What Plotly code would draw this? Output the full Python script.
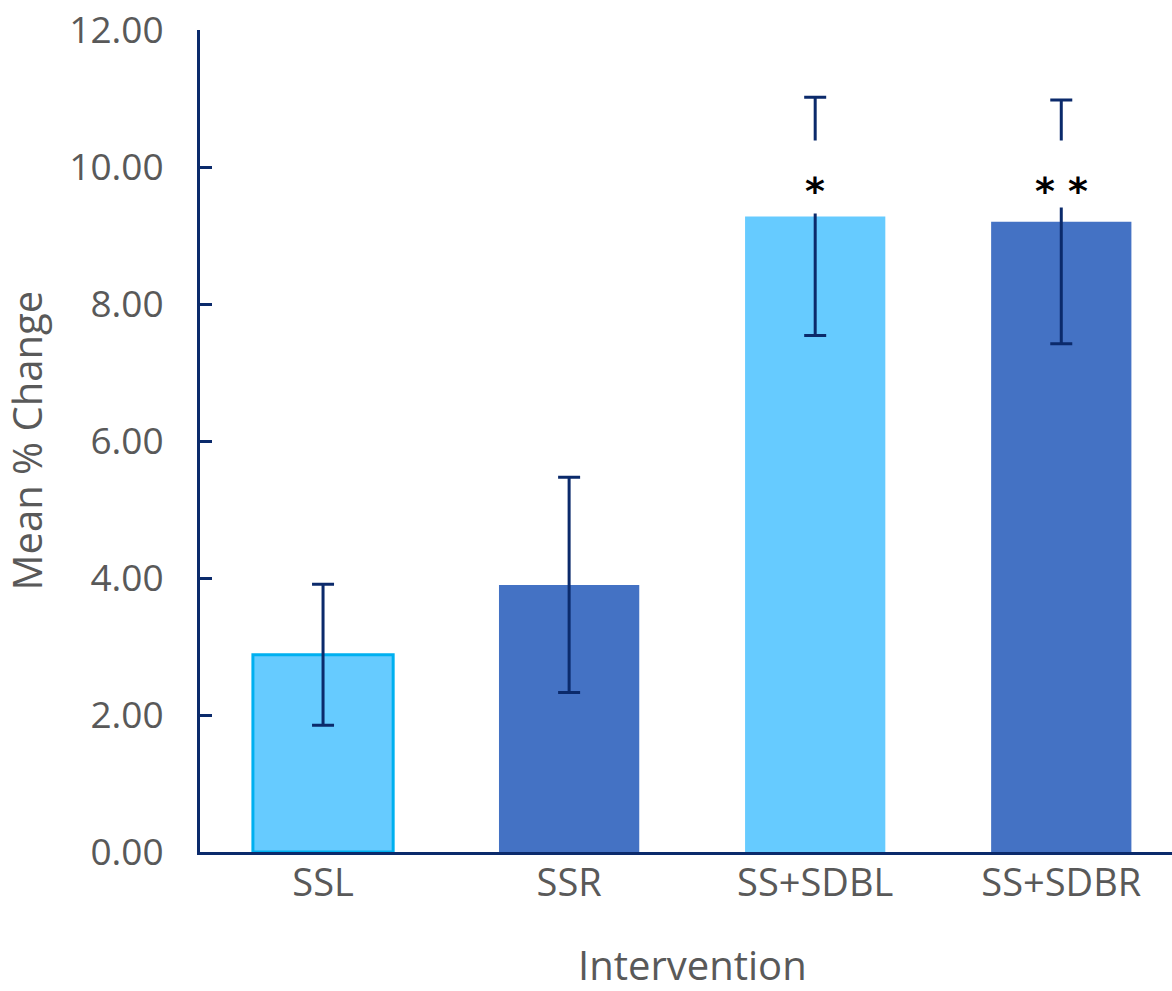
import plotly.graph_objects as go

categories = ["SSL", "SSR", "SS+SDBL", "SS+SDBR"]
means = [2.88, 3.90, 9.28, 9.20]
errors = [1.03, 1.57, 1.74, 1.78]
bar_colors = ["#66CBFF", "#4472C4", "#66CBFF", "#4472C4"]
border_colors = ["#00B0F0", "#4472C4", "#66CBFF", "#4472C4"]
border_widths = [3, 0, 0, 0]
sig_labels = ["", "", "*", "* *"]
sig_y = [None, None, 9.74, 9.74]
gap_lo = [None, None, 9.33, 9.42]
gap_hi = [None, None, 10.38, 10.38]
y_ticks = [0, 2, 4, 6, 8, 10, 12]
x_title = "Intervention"
y_title = "Mean % Change"

W, H = 1172, 991
ML, MR, MT, MB = 200, 0, 30, 139
YMAX = 12
plot_w = W - ML - MR
plot_h = H - MT - MB
px_per_unit = plot_h / YMAX

navy = "#0B2A6B"
gray = "#595959"
FONT = "Open Sans"

fig = go.Figure()
fig.add_trace(go.Bar(
    x=categories, y=means,
    marker=dict(color=bar_colors, line=dict(color=border_colors, width=border_widths)),
    error_y=dict(type="data", array=errors, visible=True, color=navy, thickness=3, width=11),
    width=0.57,
))

for c, lab, sy, lo, hi in zip(categories, sig_labels, sig_y, gap_lo, gap_hi):
    if not lab:
        continue
    # white gap in the error bar behind the significance marker
    fig.add_annotation(x=c, y=(lo + hi) / 2, xref="x", yref="y", text=" ",
                       showarrow=False, bgcolor="white", width=14,
                       height=(hi - lo) * px_per_unit, borderpad=0,
                       yanchor="middle", font=dict(size=10))
    fig.add_annotation(x=c, y=sy, xref="x", yref="y", text="<b>" + lab + "</b>", showarrow=False,
                       font=dict(family="DejaVu Sans", size=38, color="black"),
                       yanchor="middle", yshift=-6)

# axis titles
fig.add_annotation(x=(len(categories) - 1) / 2, y=-112 / plot_h, xref="x", yref="paper",
                   text=x_title, showarrow=False, xanchor="center", yanchor="middle",
                   font=dict(size=40, color=gray, family=FONT), borderpad=0)
fig.add_annotation(x=(25.5 - ML) / plot_w, y=0.5, xref="paper", yref="paper",
                   text=y_title, showarrow=False, textangle=-90, xanchor="center", yanchor="middle",
                   font=dict(size=40, color=gray, family=FONT), borderpad=0)

fig.update_layout(
    width=W, height=H,
    margin=dict(l=ML, r=MR, t=MT, b=MB, autoexpand=False),
    plot_bgcolor="white", paper_bgcolor="white",
    showlegend=False,
    font=dict(family=FONT, color=gray),
    xaxis=dict(
        range=[-0.5, 3.45], showline=True, linecolor=navy, linewidth=3,
        ticks="", tickfont=dict(size=38, color=gray, family=FONT),
        ticklabelstandoff=-5, automargin=False,
        showgrid=False, zeroline=False,
    ),
    yaxis=dict(
        range=[0, YMAX * 1.0001], tickvals=y_ticks, tickformat=".2f",
        showline=True, linecolor=navy, linewidth=3,
        ticks="inside", ticklen=12, tickwidth=3, tickcolor=navy,
        tickfont=dict(size=37, color=gray, family=FONT),
        ticklabelstandoff=26, automargin=False, ticklabeloverflow="allow",
        showgrid=False, zeroline=False,
    ),
)

fig.write_html("out.html", config={"displayModeBar": False},
               post_script="document.body.style.margin='0px';")
